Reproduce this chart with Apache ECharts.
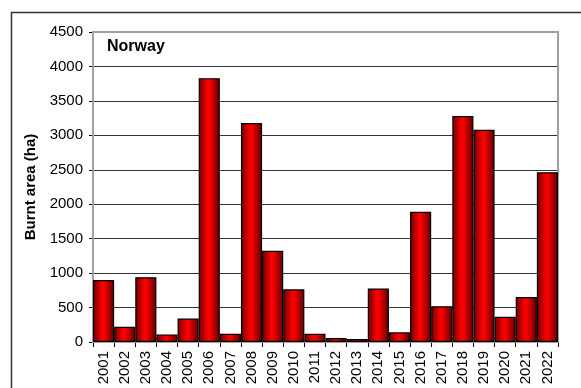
<!DOCTYPE html>
<html>
<head>
<meta charset="utf-8">
<script src="https://cdn.jsdelivr.net/npm/echarts@6/dist/echarts.min.js"></script>
<style>
html,body{margin:0;padding:0;background:#fff;}
#c{width:581px;height:388px;}
</style>
</head>
<body>
<div id="c"></div>
<script>
const years = ['2001','2002','2003','2004','2005','2006','2007','2008','2009','2010','2011','2012','2013','2014','2015','2016','2017','2018','2019','2020','2021','2022'];
const burntArea = [900,220,940,110,340,3830,120,3180,1325,765,120,58,44,775,140,1890,520,3280,3080,367,653,2465];
const yTicks = [0,500,1000,1500,2000,2500,3000,3500,4000,4500];
const chartTitle = 'Norway';
const yName = 'Burnt area (ha)';

const chart = echarts.init(document.getElementById('c'));
const font = 'Liberation Sans, Arial, sans-serif';
chart.setOption({
  animation: false,
  backgroundColor: '#fff',
  graphic: [
    { type: 'rect', shape: { x: 11.5, y: 12.5, width: 700, height: 500 }, style: { fill: 'none', stroke: '#333', lineWidth: 1.5 }, z: 0 },
    { type: 'rect', shape: { x: 93, y: 32, width: 465, height: 310 }, style: { fill: 'none', stroke: '#a0a0a0', lineWidth: 2 }, z: 1 },
    { type: 'text', left: 107, top: 39, style: { text: chartTitle, font: 'bold 16px ' + font, fill: '#000' }, z: 10 }
  ],
  grid: { left: 93, top: 32, right: 23, bottom: 46, containLabel: false },
  xAxis: {
    type: 'category',
    data: years,
    boundaryGap: true,
    axisLine: { lineStyle: { color: '#000', width: 1 } },
    axisTick: { show: true, length: 5, lineStyle: { color: '#000' } },
    axisLabel: { rotate: 90, margin: 9, fontFamily: font, fontSize: 15, color: '#000', interval: 0 },
    splitLine: { show: false }
  },
  yAxis: {
    type: 'value',
    min: yTicks[0],
    max: yTicks[yTicks.length - 1],
    interval: 500,
    name: yName,
    nameLocation: 'middle',
    nameGap: 50,
    nameRotate: 90,
    nameTextStyle: { fontFamily: font, fontSize: 15, fontWeight: 'bold', color: '#000' },
    axisLine: { show: true, lineStyle: { color: '#000', width: 1 } },
    axisTick: { show: true, length: 4, inside: false, lineStyle: { color: '#000' } },
    axisLabel: { margin: 10, fontFamily: font, fontSize: 15, color: '#000', formatter: v => String(v) },
    splitLine: { show: true, lineStyle: { color: '#333', width: 1.2 } }
  },
  series: [{
    type: 'bar',
    data: burntArea,
    barWidth: '100%',
    barCategoryGap: '0%',
    itemStyle: {
      color: new echarts.graphic.LinearGradient(0, 0, 1, 0, [
        { offset: 0, color: '#6e0000' },
        { offset: 0.45, color: '#ff0000' },
        { offset: 0.55, color: '#f00000' },
        { offset: 1, color: '#5a0000' }
      ]),
      borderColor: '#000',
      borderWidth: 1.2
    },
    z: 5
  }]
});
</script>
</body>
</html>
